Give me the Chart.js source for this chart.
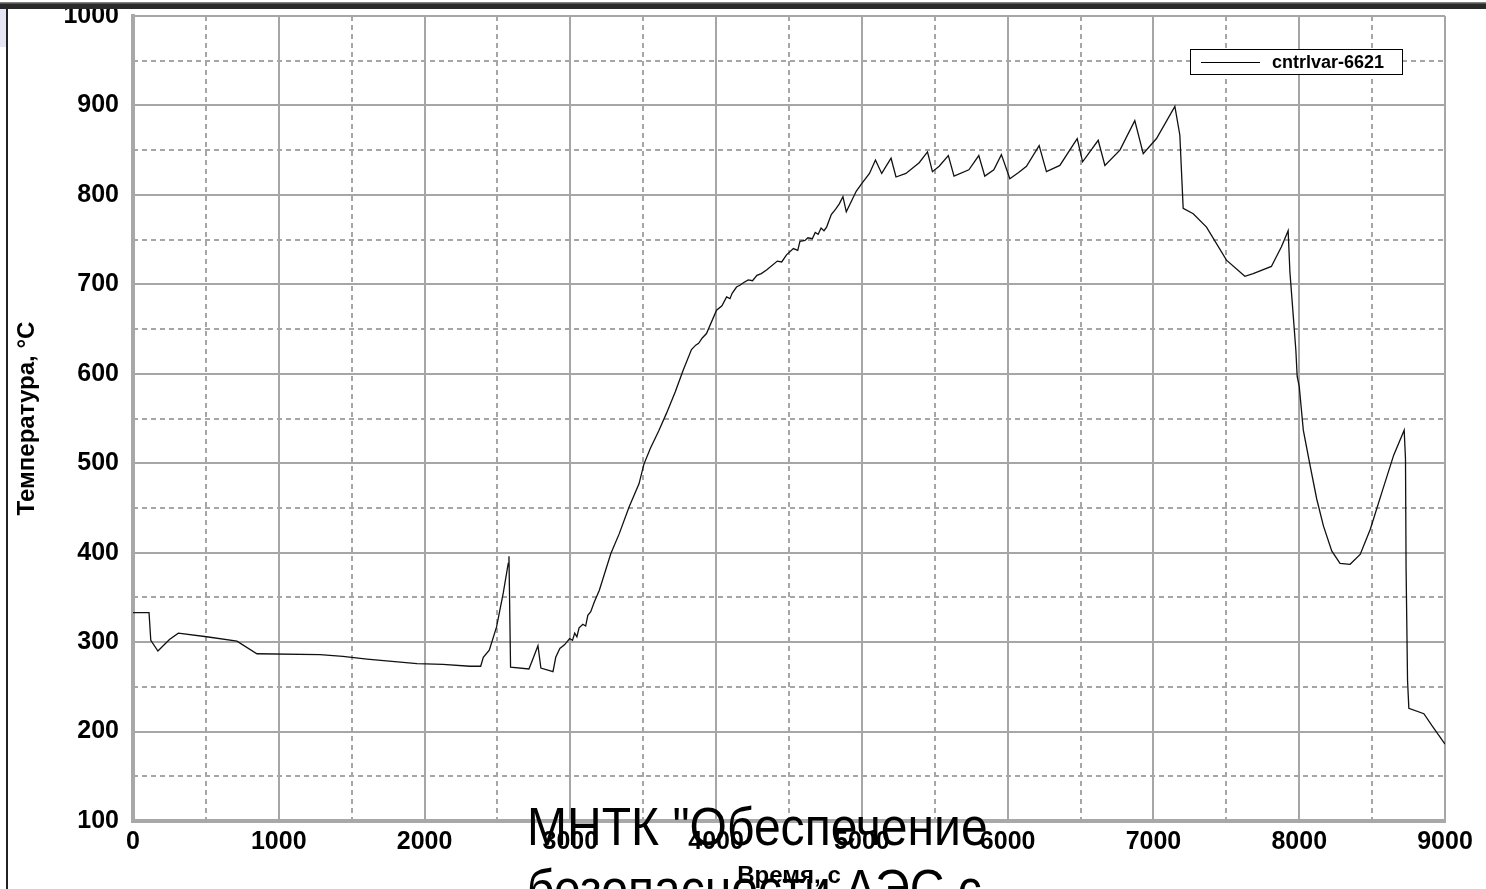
<!DOCTYPE html>
<html>
<head>
<meta charset="utf-8">
<script src="https://cdn.jsdelivr.net/npm/chart.js@4.4.1/dist/chart.umd.min.js"></script>
<style>
  body { margin: 0; background: #fff; }
  #wrap { position: relative; width: 1486px; height: 889px; overflow: hidden; background: #fff; }
  #myChart { position: absolute; left: 0; top: 0; }
  .topbar { position: absolute; left: 0; top: 2px; width: 1486px; height: 7px; background: linear-gradient(#9a9a9a, #2a2a2a 35%, #2a2a2a); }
  .leftline { position: absolute; left: 6px; top: 9px; width: 2px; height: 880px; background: #222; }
  .patch { position: absolute; left: 0; top: 9px; width: 6px; height: 38px; background: #e4e6f3; }
  .slide-text { position: absolute; left: 527px; top: 795px; font-family: "Liberation Sans", Arial, sans-serif;
    font-size: 54px; line-height: 62px; color: #000; white-space: nowrap; transform: scaleX(0.89); transform-origin: 0 0; }
</style>
</head>
<body>
<div id="wrap">
  <canvas id="myChart" width="1486" height="889"></canvas>
  <div class="topbar"></div>
  <div class="patch"></div>
  <div class="leftline"></div>
  <div class="slide-text">МНТК "Обеспечение<br>безопасности АЭС с</div>
</div>
<script>
document.addEventListener("DOMContentLoaded", () => {

  // values
  const seriesName = 'cntrlvar-6621';
  const timeSec = [
    0, 110, 122, 171, 250, 311, 505, 713, 850, 1283, 1440, 1605, 1948, 2126, 2311, 2385,
    2403, 2444, 2494, 2540, 2574, 2579, 2590, 2716, 2745, 2778, 2798, 2881, 2900, 2928,
    2960, 2995, 3015, 3030, 3045, 3060, 3086, 3105, 3120, 3140, 3165, 3199, 3278, 3335, 3403, 3471, 3505,
    3550, 3606, 3660, 3720, 3774, 3831, 3860, 3880, 3905, 3934, 4003, 4040, 4072, 4095, 4110, 4140, 4163, 4190, 4220, 4250, 4280,
    4310, 4346, 4420, 4450, 4483, 4530, 4560, 4575, 4610, 4630, 4660, 4680, 4700, 4720, 4740, 4758, 4790, 4820, 4845, 4870, 4893,
    4961, 5000, 5052, 5093, 5136, 5200, 5234, 5302, 5393, 5450, 5484, 5530, 5593, 5632,
    5734, 5802, 5843, 5905, 5957, 6015, 6075, 6129, 6216, 6266, 6358, 6477, 6514, 6621,
    6667, 6770, 6872, 6930, 7021, 7147, 7181, 7204, 7273, 7364, 7501, 7627, 7684, 7809,
    7878, 7924, 7936, 7959, 7977, 7986, 8000, 8028, 8074, 8120, 8166, 8223, 8280, 8349,
    8418, 8487, 8568, 8648, 8720, 8729, 8733, 8743, 8752, 8855, 8913, 9000
  ];
  const tempC = [
    333, 333, 302, 290, 303, 310, 306, 301, 287, 286, 284, 281, 276, 275, 273, 273,
    283, 291, 317, 355, 388, 396, 272, 270, 282, 296, 271, 267, 283, 293,
    297, 304, 302, 310, 306, 316, 320, 318, 330, 334, 345, 358, 399, 421, 451, 477, 499,
    517, 536, 556, 580, 604, 627, 632, 634, 640, 645, 671, 676, 686, 684, 690, 697, 699, 702, 705, 704, 710,
    712, 716, 726, 725, 733, 740, 738, 748, 749, 752, 751, 758, 756, 763, 760, 764, 778, 784, 790, 798, 781,
    804, 813, 824, 839, 824, 841, 820, 824, 836, 848, 826, 832, 844, 821,
    828, 844, 821, 828, 845, 818, 825, 832, 855, 826, 833, 863, 837, 861,
    833, 850, 883, 846, 863, 899, 867, 785, 779, 764, 727, 709, 712, 720,
    742, 760, 714, 665, 626, 597, 586, 537, 498, 460, 430, 402, 388, 387,
    398, 426, 468, 509, 537, 505, 383, 257, 226, 220, 206, 186
  ];
  const xMin = 0, xMax = 9000, xStep = 1000;
  const yMin = 100, yMax = 1000, yStep = 100;
  const xTitle = 'Время, с';
  const yTitle = 'Температура, °С';

  const points = timeSec.map((t, i) => ({ x: t, y: tempC[i] }));

  const gridGray = '#a6a6a6';
  const tickFont = { family: '"Liberation Sans", Arial, sans-serif', size: 25, weight: 'bold' };
  const titleFont = { family: '"Liberation Sans", Arial, sans-serif', size: 24, weight: 'bold', lineHeight: 1 };

  // dashed lines half way between the major ticks
  const minorGrid = {
    id: 'minorGrid',
    beforeDatasetsDraw(chart) {
      const { ctx, chartArea, scales } = chart;
      ctx.save();
      ctx.strokeStyle = gridGray;
      ctx.lineWidth = 2;
      ctx.setLineDash([5, 4]);
      const xs = scales.x.ticks;
      for (let i = 0; i < xs.length - 1; i++) {
        const px = Math.round(scales.x.getPixelForValue((xs[i].value + xs[i + 1].value) / 2));
        ctx.beginPath();
        ctx.moveTo(px, chartArea.top);
        ctx.lineTo(px, chartArea.bottom);
        ctx.stroke();
      }
      const ys = scales.y.ticks;
      for (let i = 0; i < ys.length - 1; i++) {
        const py = Math.round(scales.y.getPixelForValue((ys[i].value + ys[i + 1].value) / 2));
        ctx.beginPath();
        ctx.moveTo(chartArea.left, py);
        ctx.lineTo(chartArea.right, py);
        ctx.stroke();
      }
      ctx.restore();
    }
  };

  // boxed legend inside the plot, top right
  const boxLegend = {
    id: 'boxLegend',
    afterDatasetsDraw(chart) {
      const { ctx, chartArea } = chart;
      const ds = chart.data.datasets[0];
      const bx = chartArea.right - 255, by = chartArea.top + 33, bw = 212, bh = 25;
      ctx.save();
      ctx.fillStyle = '#fff';
      ctx.fillRect(bx, by, bw, bh);
      ctx.strokeStyle = '#000';
      ctx.lineWidth = 1;
      ctx.strokeRect(bx + 0.5, by + 0.5, bw, bh);
      ctx.beginPath();
      ctx.moveTo(bx + 11, by + 13.5);
      ctx.lineTo(bx + 70, by + 13.5);
      ctx.stroke();
      ctx.fillStyle = '#000';
      ctx.font = 'bold 18px "Liberation Sans", Arial, sans-serif';
      ctx.textBaseline = 'middle';
      ctx.fillText(ds.label, bx + 82, by + 14);
      ctx.restore();
    }
  };

  const ctx = document.getElementById('myChart').getContext('2d');
  const myChart = new Chart(ctx, {
    type: 'line',
    data: {
      datasets: [{
        label: seriesName,
        data: points,
        borderColor: '#111',
        borderWidth: 1.3,
        pointRadius: 0,
        tension: 0,
        fill: false
      }]
    },
    options: {
      responsive: false,
      animation: false,
      devicePixelRatio: 1,
      layout: { padding: { left: 0, top: 16, right: 41, bottom: 0 } },
      plugins: { legend: { display: false }, tooltip: { enabled: false } },
      scales: {
        x: {
          type: 'linear',
          min: xMin, max: xMax,
          afterFit: (s) => { s.height = 68; s.paddingLeft = 0; s.paddingRight = 0; },
          ticks: { stepSize: xStep, color: '#000', font: tickFont, padding: 6, maxRotation: 0,
                   callback: (v) => String(v) },
          grid: { color: gridGray, lineWidth: 2, drawTicks: false },
          border: { display: true, color: '#a8a8a8', width: 4 },
          title: { display: true, text: xTitle, color: '#000', font: titleFont, padding: { top: 0, bottom: 1 } }
        },
        y: {
          type: 'linear',
          min: yMin, max: yMax,
          afterFit: (s) => { s.width = 133; s.paddingTop = 0; s.paddingBottom = 0; },
          ticks: { stepSize: yStep, color: '#000', font: tickFont, padding: 14,
                   callback: (v) => String(v) },
          grid: { color: gridGray, lineWidth: 2, drawTicks: false },
          border: { display: true, color: '#a8a8a8', width: 4 },
          title: { display: true, text: yTitle, color: '#000', font: titleFont, padding: { top: 15, bottom: 0 } }
        }
      }
    },
    plugins: [minorGrid, boxLegend]
  });
});
</script>
</body>
</html>
